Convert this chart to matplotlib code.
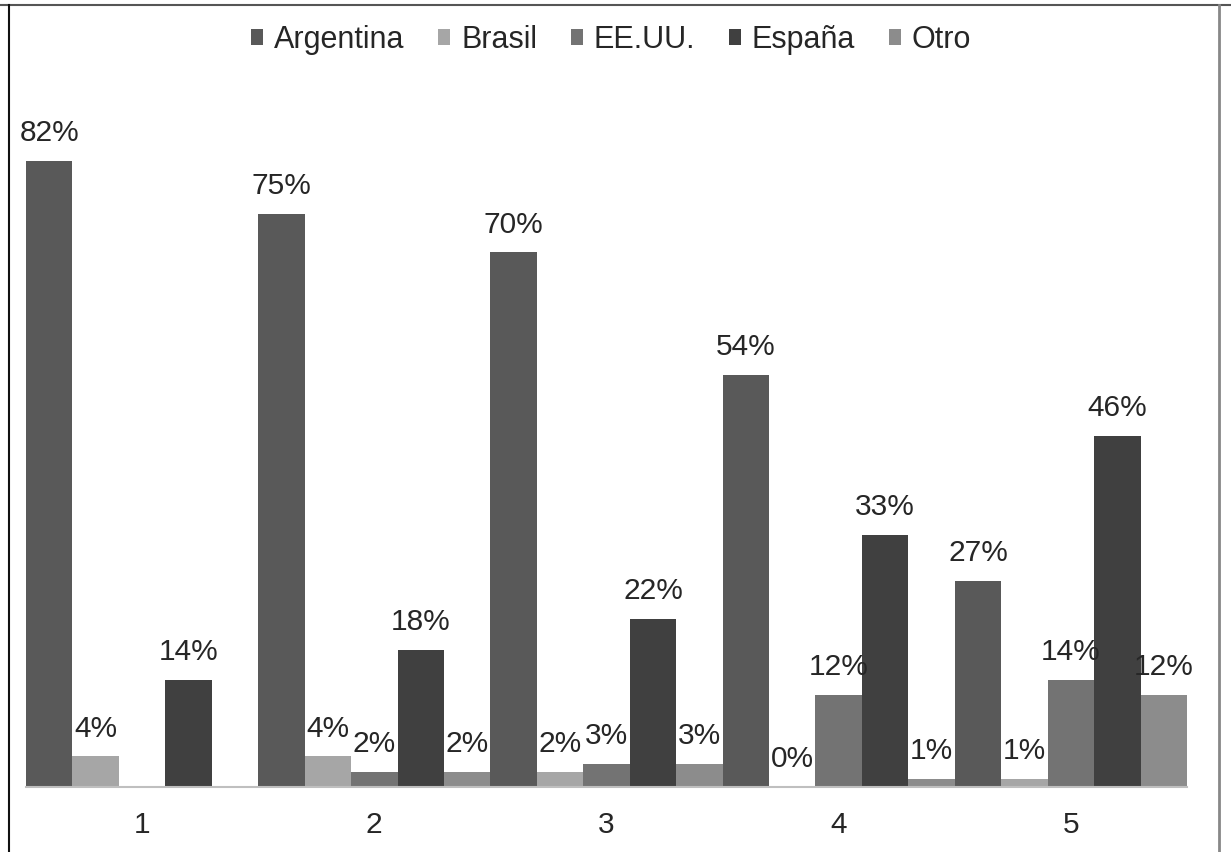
import numpy as np
import matplotlib.pyplot as plt

plt.rcParams['font.family'] = ['Liberation Sans', 'DejaVu Sans']

grupos = ['1', '2', '3', '4', '5']
paises = ['Argentina', 'Brasil', 'EE.UU.', 'España', 'Otro']
argentina = [82, 75, 70, 54, 27]
brasil = [4, 4, 2, 0, 1]
eeuu = [np.nan, 2, 3, 12, 14]
espana = [14, 18, 22, 33, 46]
otro = [np.nan, 2, 3, 1, 12]
series = [argentina, brasil, eeuu, espana, otro]
colores = ['#595959', '#a6a6a6', '#737373', '#404040', '#8c8c8c']

W, H = 1231, 852
fig = plt.figure(figsize=(W / 100, H / 100), dpi=100)
# axes box in pixel coords: left 26, right 1187, baseline 787, top 100
ax = fig.add_axes([26 / W, (H - 787) / H, (1187 - 26) / W, (787 - 100) / H])

n = len(paises)
for j, (nombre, vals, c) in enumerate(zip(paises, series, colores)):
    x = np.arange(len(grupos)) * n + j + 0.5
    v = np.array(vals, dtype=float)
    ax.bar(x, v, width=1.0, color=c, label=nombre)
    for xi, vi in zip(x, v):
        if np.isnan(vi):
            continue
        ax.annotate(f'{vi:.0f}%', (xi, vi), xytext=(0, 10), textcoords='offset points',
                    ha='center', va='bottom', fontsize=21.5, color='#262626')

ax.set_xlim(0, len(grupos) * n)
ax.set_ylim(0, 687 / 763.6 * 100)
ax.set_xticks(np.arange(len(grupos)) * n + n / 2)
ax.set_xticklabels(grupos, fontsize=21.5, color='#262626')
ax.tick_params(axis='x', length=0, pad=17)
ax.set_yticks([])
for s in ['top', 'right', 'left']:
    ax.spines[s].set_visible(False)
ax.spines['bottom'].set_color('#bfbfbf')
ax.spines['bottom'].set_linewidth(1.5)

fig.legend(loc='center', bbox_to_anchor=(611 / W, 1 - 40 / H), ncol=5, frameon=False,
           fontsize=22, handlelength=0.4, handleheight=0.4, handletextpad=0.35,
           columnspacing=1.1, labelcolor='#262626')

# outer frame of the original picture
fig.add_artist(plt.Line2D([0, 1], [1 - 5 / H] * 2, color='#555555', lw=1.5, transform=fig.transFigure))
fig.add_artist(plt.Line2D([8.5 / W] * 2, [0, 1 - 5 / H], color='#111111', lw=1.5, transform=fig.transFigure))
fig.add_artist(plt.Line2D([1219 / W] * 2, [0, 1 - 5 / H], color='#888888', lw=2, transform=fig.transFigure))

fig.savefig('out.png', dpi=100)
